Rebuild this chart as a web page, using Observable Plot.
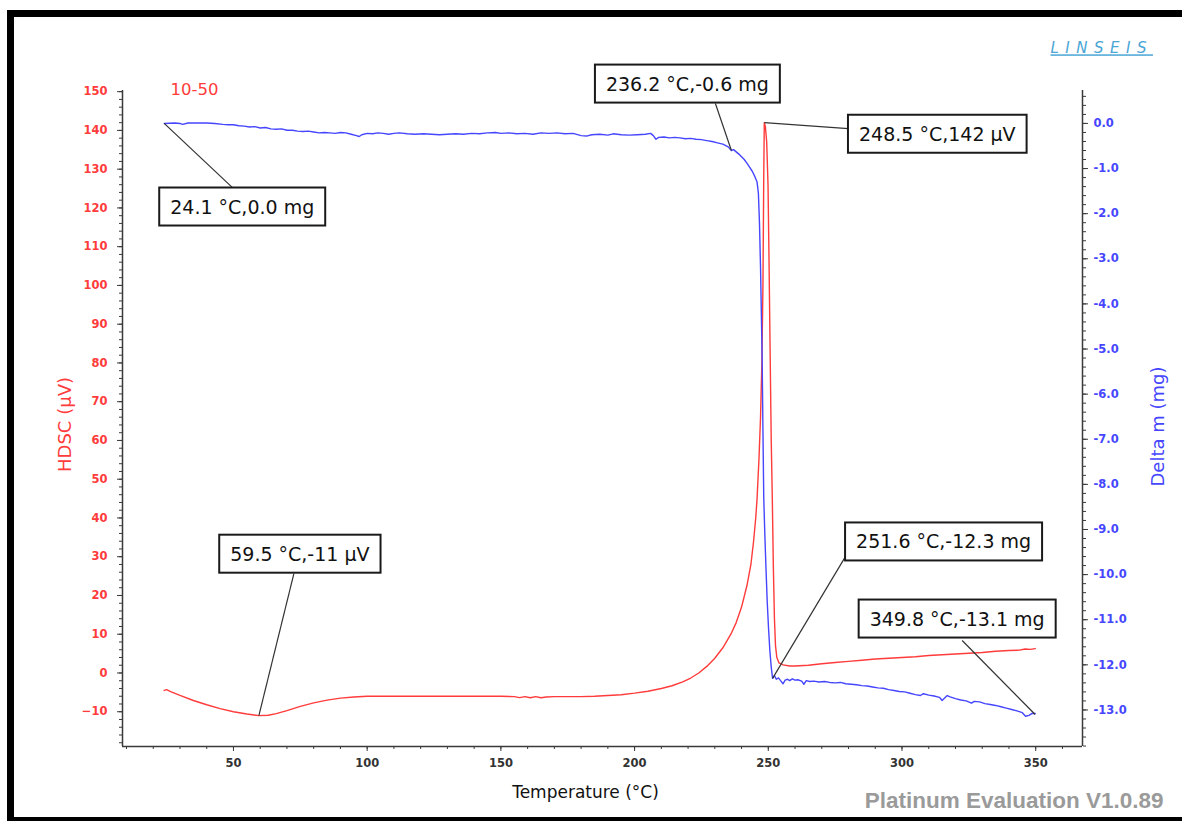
<!DOCTYPE html>
<html>
<head>
<meta charset="utf-8">
<script src="https://cdn.jsdelivr.net/npm/d3@7"></script>
<script src="https://cdn.jsdelivr.net/npm/@observablehq/plot@0.6"></script>
<style>
html, body { margin: 0; padding: 0; background: #fff; }
#wrap { position: relative; width: 1182px; height: 821px; overflow: hidden; }
#wrap svg { position: absolute; left: 0; top: 0; }
#border { position: absolute; left: 7px; top: 10px; width: 1240px; height: 814px; border: 7px solid #000; box-sizing: border-box; pointer-events: none; }
</style>
</head>
<body>
<div id="wrap"><div id="border"></div></div>
<script>
// ---------- data ----------
const hdscTemp = [24.1, 25.0, 26.5, 30, 35, 40, 45, 50, 55, 59.5, 63, 66, 70, 75, 80, 85, 90, 95, 100, 110, 120, 130, 140, 150, 155, 157, 159, 161, 163, 165, 167, 170, 175, 180, 185, 190, 195, 200, 205, 210, 214, 218, 221, 224, 227, 230, 233, 236, 238, 240, 242, 243.5, 244.5, 245.3, 245.8, 246.5, 247.1, 247.6, 248.0, 248.3, 248.5, 248.9, 249.4, 249.9, 250.3, 250.7, 251.1, 251.5, 251.9, 252.3, 252.7, 253.2, 254.0, 255.5, 258, 260, 265, 270, 275, 280, 285, 290, 295, 300, 305, 310, 315, 320, 325, 330, 335, 340, 344, 346, 348, 349.8];
const hdscValue = [-4.5, -4.3, -4.8, -5.8, -7.1, -8.2, -9.2, -10.0, -10.6, -11.0, -10.9, -10.5, -9.7, -8.6, -7.7, -7.0, -6.5, -6.2, -6.0, -6.0, -6.0, -6.0, -6.0, -6.0, -6.1, -6.35, -6.1, -6.4, -6.1, -6.4, -6.2, -6.1, -6.1, -6.1, -6.0, -5.8, -5.6, -5.2, -4.7, -4.0, -3.3, -2.3, -1.3, 0.0, 1.7, 3.8, 6.5, 10.0, 13.0, 17.0, 22.5, 28, 34, 40, 45, 55, 66, 80, 100, 128, 142, 141, 137, 126, 105, 82, 60, 45, 27, 14, 7, 4, 2.6, 2.1, 1.8, 1.8, 2.0, 2.4, 2.7, 3.0, 3.3, 3.6, 3.8, 4.0, 4.2, 4.5, 4.7, 4.9, 5.1, 5.3, 5.6, 5.8, 5.9, 6.2, 6.1, 6.3];

const massTemp = [24.1, 26, 28, 30, 31, 33, 36, 40, 43, 46, 48, 50, 52, 54, 56, 58, 60, 62, 64, 66, 68, 70, 72, 74, 76, 78, 80, 82, 84, 86, 88, 90, 92, 94, 96, 97, 98, 100, 102, 104, 106, 108, 110, 112, 115, 118, 121, 124, 127, 130, 133, 136, 139, 142, 145, 148, 150, 153, 156, 159, 162, 165, 168, 171, 174, 177, 180, 182, 184, 187, 190, 192, 195, 198, 201, 204, 206, 207, 208, 209, 211, 213, 215, 217, 219, 221, 223, 225, 227, 229, 231, 233, 235, 236.2, 237, 238, 239, 240, 241, 242, 243, 244, 245, 245.8, 246.3, 246.7, 247.1, 247.4, 247.7, 248.0, 248.3, 248.7, 249.1, 249.6, 250.1, 250.6, 251.1, 251.6, 252.3, 253, 253.8, 254.6, 255.5, 256.3, 257.2, 258, 259, 260, 261, 262.5, 263.3, 264.2, 265.5, 267, 269, 271, 273, 275, 277, 279, 281, 283, 285, 287, 289, 291, 293, 295, 297, 299, 301, 303, 305, 306.9, 308, 310, 312, 314, 315, 316.9, 318, 320, 322, 324, 326, 327, 329, 331, 333, 335, 337, 339, 341, 343, 345, 346.2, 347.5, 348.5, 349.8];
const massValue = [0.00, 0.005, 0.01, 0.0, -0.02, 0.01, 0.01, 0.01, 0.0, -0.02, -0.03, -0.03, -0.05, -0.06, -0.08, -0.07, -0.10, -0.09, -0.12, -0.13, -0.12, -0.15, -0.15, -0.17, -0.18, -0.17, -0.19, -0.21, -0.20, -0.21, -0.22, -0.20, -0.21, -0.24, -0.27, -0.29, -0.25, -0.22, -0.23, -0.21, -0.22, -0.24, -0.22, -0.21, -0.23, -0.24, -0.23, -0.24, -0.25, -0.24, -0.23, -0.24, -0.22, -0.23, -0.21, -0.20, -0.22, -0.21, -0.23, -0.22, -0.24, -0.21, -0.22, -0.21, -0.23, -0.22, -0.27, -0.28, -0.25, -0.24, -0.26, -0.23, -0.25, -0.26, -0.25, -0.24, -0.22, -0.27, -0.35, -0.31, -0.30, -0.32, -0.31, -0.32, -0.34, -0.33, -0.35, -0.36, -0.38, -0.40, -0.43, -0.46, -0.52, -0.60, -0.58, -0.63, -0.68, -0.74, -0.80, -0.88, -0.97, -1.06, -1.18, -1.30, -1.55, -2.2, -3.2, -4.2, -5.2, -6.8, -8.3, -9.1, -9.8, -10.6, -11.2, -11.7, -12.05, -12.3, -12.24, -12.32, -12.29, -12.35, -12.42, -12.34, -12.32, -12.35, -12.31, -12.34, -12.33, -12.36, -12.43, -12.35, -12.37, -12.36, -12.38, -12.37, -12.39, -12.40, -12.39, -12.42, -12.43, -12.44, -12.46, -12.47, -12.49, -12.51, -12.52, -12.55, -12.57, -12.59, -12.60, -12.63, -12.66, -12.68, -12.64, -12.67, -12.69, -12.72, -12.79, -12.68, -12.71, -12.75, -12.78, -12.80, -12.85, -12.81, -12.82, -12.86, -12.88, -12.90, -12.93, -12.96, -12.99, -13.02, -13.06, -13.14, -13.12, -13.08, -13.08];

// callouts (data values)
const calloutTemp  = [24.1, 236.2, 248.5, 59.5, 251.6, 349.8];
const calloutValue = [0.0, -0.6, 142, -11, -12.3, -13.1];
const calloutUnit  = ["mg", "mg", "µV", "µV", "mg", "mg"];

// tick values
const xMajor = [50, 100, 150, 200, 250, 300, 350];
const xMinor = d3.range(10, 361, 10);
const hdscMajor = d3.range(-10, 151, 10);
const hdscMinor = d3.range(-18, 151, 2);
const massMajor = d3.range(-13, 1, 1);
const massMinor = d3.range(-69, 4).map(i => i / 5);

// texts
const seriesTitle = "10-50";
const xTitle = "Temperature (°C)";
const yLeftTitle = "HDSC (µV)";
const yRightTitle = "Delta m (mg)";
const brand = "LINSEIS";
const footer = "Platinum Evaluation V1.0.89";

// ---------- layout ----------
const W = 1182, H = 821, mL = 122, mR = 100, mT = 90, mB = 75;
const xDomain = [8.5, 367.5];
const hdscDomain = [-18.97, 150.3];
const massDomain = [-13.81, 0.73];
const RED = "#ff3b3b", BLUE = "#4646ff", AXIS = "#3a3a3a";
// callout layout: label centre offset and leader end offset in pixels
const calloutLabelOffset = [[78, 84], [-44, -66], [173, 12], [41, -161], [171, -136], [-78, -95]];
const calloutLeaderOffset = [[68, 64], [-16, -47], [84, 6], [35, -142], [73, -122], [-73, -74]];

const k = (hdscDomain[1] - hdscDomain[0]) / (massDomain[1] - massDomain[0]);
const massToY = m => hdscDomain[0] + (m - massDomain[0]) * k;
const yToMass = y => massDomain[0] + (y - hdscDomain[0]) / k;

const xs = d3.scaleLinear(xDomain, [mL, W - mR]);
const ys = d3.scaleLinear(hdscDomain, [H - mB, mT]);

const hdscRows = hdscTemp.map((t, i) => ({t, v: hdscValue[i]}));
const massRows = massTemp.map((t, i) => ({t, y: massToY(massValue[i])}));

const callouts = calloutTemp.map((t, i) => {
  const u = calloutUnit[i];
  const v = calloutValue[i];
  const y = u === "mg" ? massToY(v) : v;
  const label = `${t.toFixed(1)} °C,${u === "mg" ? v.toFixed(1) : v} ${u}`;
  const [lx, ly] = calloutLeaderOffset[i];
  return {t, y, label, x2: xs.invert(xs(t) + lx), y2: ys.invert(ys(y) + ly)};
});

const fam = "DejaVu Sans";
const marks = [
  // frame lines
  Plot.ruleX([xDomain[0], xDomain[1]], {stroke: AXIS, strokeWidth: 1.5}),
  Plot.ruleY([hdscDomain[0]], {stroke: AXIS, strokeWidth: 1.5}),
  // x axis
  Plot.axisX(xMinor, {anchor: "bottom", tickSize: 3, tickFormat: () => "", stroke: AXIS, label: null}),
  Plot.axisX(xMajor, {anchor: "bottom", tickSize: 5, tickPadding: 7, stroke: AXIS, fill: "#333", fontWeight: "bold", fontSize: 11.5, fontFamily: fam, label: null}),
  // left axis
  Plot.axisY(hdscMinor, {anchor: "left", tickSize: 3, tickFormat: () => "", stroke: AXIS, label: null}),
  Plot.axisY(hdscMajor, {anchor: "left", tickSize: 5, tickPadding: 10, stroke: AXIS, fill: RED, fontWeight: "bold", fontSize: 11.5, fontFamily: fam, label: null}),
  // right axis
  Plot.axisY(massMinor.map(massToY), {anchor: "right", tickSize: 3, tickFormat: () => "", stroke: AXIS, label: null}),
  Plot.axisY(massMajor.map(massToY), {anchor: "right", tickSize: 5, tickPadding: 6, stroke: AXIS, fill: BLUE, fontWeight: "bold", fontSize: 11.5, fontFamily: fam, label: null,
    tickFormat: d => (Math.round(yToMass(d) * 10) / 10).toFixed(1)}),
  // curves
  Plot.line(hdscRows, {x: "t", y: "v", stroke: RED, strokeWidth: 1.4}),
  Plot.line(massRows, {x: "t", y: "y", stroke: BLUE, strokeWidth: 1.4}),
  // leader lines
  Plot.link(callouts, {x1: "t", y1: "y", x2: "x2", y2: "y2", stroke: "#333", strokeWidth: 1.2}),
  // callout labels
  ...callouts.map((c, i) => Plot.text([c], {x: "t", y: "y", text: "label", dx: calloutLabelOffset[i][0], dy: calloutLabelOffset[i][1],
    textAnchor: "middle", lineAnchor: "middle", fontSize: 19, fontFamily: fam, fill: "#111", ariaDescription: "callout"})),
  // titles
  Plot.text([seriesTitle], {frameAnchor: "top-left", text: d => d, dx: 48, dy: -1, textAnchor: "start", lineAnchor: "middle", fill: RED, fontSize: 16.5, fontFamily: fam}),
  Plot.text([yLeftTitle], {frameAnchor: "left", text: d => d, dx: -57, dy: 6, rotate: -90, textAnchor: "middle", lineAnchor: "middle", fill: RED, fontSize: 18, fontFamily: fam}),
  Plot.text([yRightTitle], {frameAnchor: "right", text: d => d, dx: 76, dy: 8, rotate: -90, textAnchor: "middle", lineAnchor: "middle", fill: BLUE, fontSize: 18, fontFamily: fam}),
  Plot.text([xTitle], {frameAnchor: "bottom", text: d => d, dx: -17, dy: 46, textAnchor: "middle", lineAnchor: "middle", fill: "#111", fontSize: 17, fontFamily: fam}),
  Plot.text([brand], {frameAnchor: "top-right", text: d => d, dx: -32, dy: -42, textAnchor: "start", lineAnchor: "middle", fill: "#4aa6d6", fontSize: 15, fontStyle: "italic", fontFamily: fam, ariaDescription: "brand"}),
  Plot.text([footer], {frameAnchor: "bottom-right", text: d => d, dx: 81, dy: 54, textAnchor: "end", lineAnchor: "middle", fill: "#9a9a9a", fontSize: 22.5, fontWeight: "bold", fontFamily: "Liberation Sans"})
];

const chart = Plot.plot({
  width: W, height: H,
  marginLeft: mL, marginRight: mR, marginTop: mT, marginBottom: mB,
  x: {domain: xDomain},
  y: {domain: hdscDomain},
  style: {fontFamily: fam, fontSize: "11px", background: "transparent", overflow: "visible"},
  marks
});

const wrap = document.getElementById("wrap");
wrap.insertBefore(chart, wrap.firstChild);

function textsOf(desc) {
  const out = [];
  chart.querySelectorAll(`[aria-description="${desc}"]`).forEach(el => {
    if (el.tagName.toLowerCase() === "text") out.push(el);
    else el.querySelectorAll("text").forEach(t => out.push(t));
  });
  return out;
}

// boxes behind callout labels
const NS = "http://www.w3.org/2000/svg";
textsOf("callout").forEach(t => {
  const b = t.getBBox();
  const r = document.createElementNS(NS, "rect");
  const padX = 11, h = 38;
  r.setAttribute("x", b.x - padX);
  r.setAttribute("y", b.y + b.height / 2 - h / 2);
  r.setAttribute("width", b.width + 2 * padX);
  r.setAttribute("height", h);
  const tr = t.getAttribute("transform");
  if (tr) r.setAttribute("transform", tr);
  r.setAttribute("fill", "#fff");
  r.setAttribute("stroke", "#1a1a1a");
  r.setAttribute("stroke-width", 2);
  t.parentNode.insertBefore(r, t);
});
// brand styling
textsOf("brand").forEach(t => {
  t.setAttribute("letter-spacing", "6.5px");
  t.style.textDecoration = "underline";
});
</script>
</body>
</html>
